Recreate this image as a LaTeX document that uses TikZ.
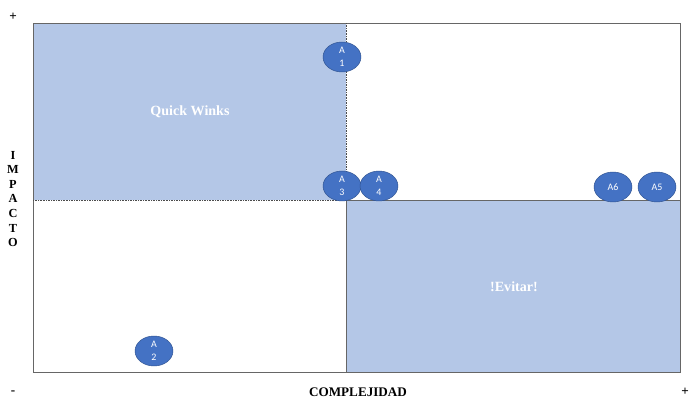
\documentclass[tikz,border=0pt]{standalone}
\usepackage{fontspec}
\setmainfont{Liberation Serif}
\newfontfamily\actfont{Carlito}
\definecolor{quadblue}{HTML}{B4C7E7}
\definecolor{actblue}{HTML}{4472C4}
\definecolor{actedge}{HTML}{2F528F}
\tikzset{
  act/.style={ellipse, draw=actedge, fill=actblue, minimum width=38\pxu, minimum height=30\pxu,
    inner sep=0pt, text=white, font=\actfont\fontsize{8.5}{11.5}\selectfont, align=center},
  axislbl/.style={font=\bfseries\fontsize{11.2}{13}\selectfont, inner sep=0pt},
  quadlbl/.style={font=\bfseries\fontsize{12}{14}\selectfont, text=white, inner sep=0pt}
}
\usetikzlibrary{shapes.geometric}
\newlength{\pxu}\setlength{\pxu}{0.03cm}
\begin{document}
\begin{tikzpicture}[x=0.03cm,y=-0.03cm]
    \useasboundingbox (0,0) rectangle (693,398);
    \fill[quadblue] (33,23) rectangle (346,200);% Quick wins corner
    \fill[quadblue] (346,200) rectangle (680,372);% corner to avoid
    \draw[gray!80!black, thick] (33,23) rectangle (680,372);% outer frame
    \draw[gray!80!black] (346,372) -- (346,200) -- (680,200);
    \draw[black!70, densely dotted] (346,23) -- (346,200);
    \draw[black!70, densely dotted] (33,200) -- (346,200);
    % quadrant labels
    \node[quadlbl] (qw) at (190,112) {Quick Winks};
    \node[quadlbl] (ev) at (514,287) {!Evitar!};
    % axes labels
    \node[axislbl] (plustop) at (13,17) {+};
    \node[axislbl] (minus) at (13,393) {-};
    \node[axislbl] (plusright) at (685,392) {+};
    \node[axislbl] (cx) at (358,392) {COMPLEJIDAD};
    \node[axislbl, align=center, font=\bfseries\fontsize{10.5}{12.4}\selectfont] (imp) at (13,199)
        {I\\M\\P\\A\\C\\T\\O};
    % activities
    \node[act] (a1) at (342,57) {A\\1};
    \node[act] (a3) at (342,186) {A\\3};
    \node[act] (a4) at (379,186) {A\\4};
    \node[act] (a6) at (613,187) {A6};
    \node[act] (a5) at (657,187) {A5};
    \node[act] (a2) at (154,351) {A\\2};
\end{tikzpicture}
\end{document}
